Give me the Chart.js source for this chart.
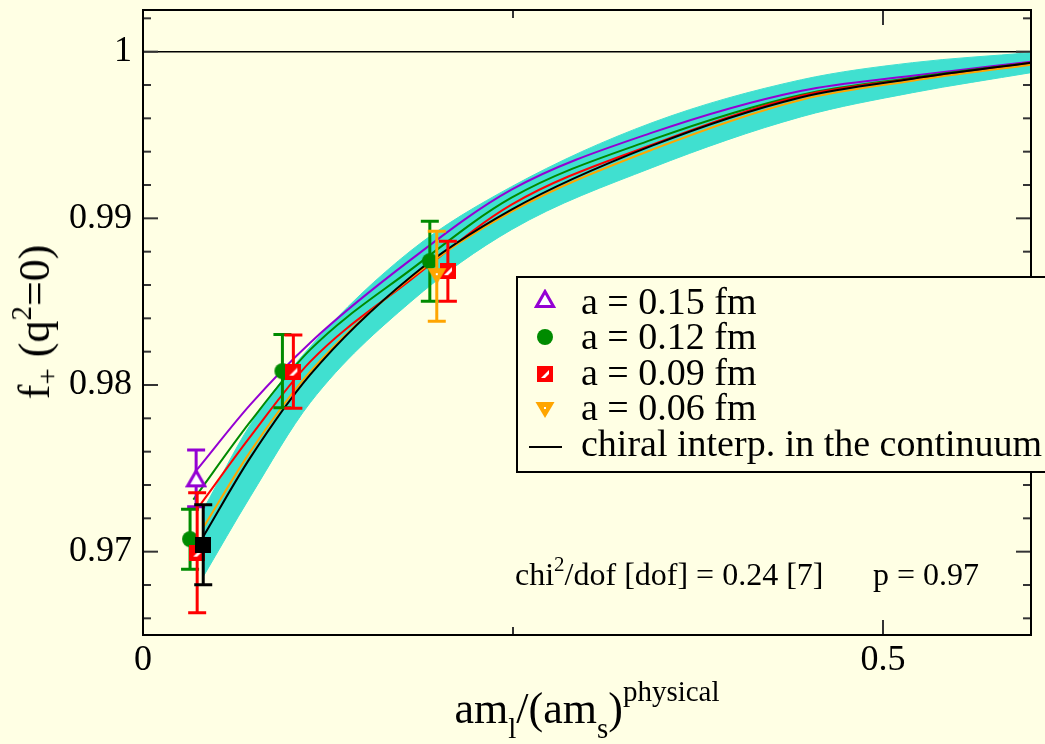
<!DOCTYPE html>
<html>
<head>
<meta charset="utf-8">
<script src="https://cdn.jsdelivr.net/npm/chart.js@4.4.0/dist/chart.umd.min.js"></script>
<style>
  html, body { margin: 0; padding: 0; background: #ffffe4; }
  #wrap { position: relative; width: 1045px; height: 744px; overflow: hidden;
          font-family: "Liberation Serif", "Times New Roman", serif; color: #000; }
  #chart { position: absolute; left: 0; top: 0; }
  .lbl { position: absolute; white-space: nowrap; line-height: 1; }
  .lbl sub, .lbl sup { line-height: 0; }
  #xTitle { left: 587px; top: 687px; font-size: 44px; transform: translateX(-50%); }
  #xTitle sub { font-size: 29px; vertical-align: -15px; }
  #xTitle sup { font-size: 29px; vertical-align: 22px; }
  #yTitle { left: 35px; top: 322px; font-size: 44px; transform: translate(-50%, -50%) rotate(-90deg); }
  #yTitle sub { font-size: 29px; vertical-align: -8px; }
  #yTitle sup { font-size: 29px; vertical-align: 18px; }
  .fit { top: 558px; font-size: 32px; }
  .fit sup { font-size: 21px; vertical-align: 14px; }
</style>
</head>
<body>
<div id="wrap">
  <canvas id="chart" width="1045" height="744"></canvas>
  <div class="lbl" id="xTitle">am<sub>l</sub>/(am<sub>s</sub>)<sup>physical</sup></div>
  <div class="lbl" id="yTitle">f<sub>+</sub> (q<sup>2</sup>=0)</div>
  <div class="lbl fit" style="left:515px">chi<sup>2</sup>/dof [dof] = 0.24 [7]</div>
  <div class="lbl fit" style="left:873px">p = 0.97</div>
</div>
<script>
// ! Data
const xMin = 0, xMax = 0.6;
const yMin = 0.965, yMax = 1.0025;
const xTickValues = [0, 0.5];
const xTickLabels = ["0", "0.5"];
const xMinorTicks = [0.25];
const yTickValues = [0.97, 0.98, 0.99, 1];
const yTickLabels = ["0.97", "0.98", "0.99", "1"];
const yMinorTicks = [0.966, 0.968, 0.972, 0.974, 0.976, 0.978, 0.982, 0.984, 0.986, 0.988, 0.992, 0.994, 0.996, 0.998, 1.002];

// lattice points
const a15X = [0.0359], a15Y = [0.9744], a15Err = [0.0017];
const a12X = [0.0318, 0.0942, 0.1938], a12Y = [0.97075, 0.98083, 0.98743], a12Err = [0.0018, 0.0022, 0.0024];
const a09X = [0.0366, 0.1016, 0.206], a09Y = [0.96994, 0.9808, 0.98683], a09Err = [0.0036, 0.0022, 0.0018];
const a06X = [0.1985], a06Y = [0.98653], a06Err = [0.0027];
const physX = [0.0407], physY = [0.97042], physErr = [0.0024];

// fit curves
const xGrid = [0.0725, 0.113, 0.181, 0.249, 0.344, 0.445, 0.52, 0.6];
const fit15X = [0.0365, ...xGrid];
const fit15Y = [0.97492, 0.97882, 0.98254, 0.98752, 0.99172, 0.99514, 0.99766, 0.99856, 0.9994];
const fit12X = [0.034, ...xGrid];
const fit12Y = [0.97312, 0.9778, 0.98212, 0.98692, 0.99124, 0.99472, 0.99742, 0.99844, 0.99934];
const fit09X = [0.0372, ...xGrid];
const fit09Y = [0.97264, 0.9769, 0.9814, 0.98632, 0.99082, 0.99442, 0.99736, 0.99838, 0.99934];
const fit06X = [0.0407, ...xGrid];
const fit06Y = [0.97144, 0.976, 0.9808, 0.98644, 0.9904, 0.99412, 0.99712, 0.99826, 0.99922];
const contX = [0.0407, ...xGrid];
const contY = [0.9709, 0.97564, 0.98062, 0.9865, 0.99052, 0.99436, 0.99727, 0.99838, 0.99934];
const bandUpper = [0.97252, 0.97762, 0.9823, 0.98806, 0.9919, 0.99574, 0.99832, 0.99934, 0.99994];
const bandLower = [0.9685, 0.9733, 0.97894, 0.985, 0.98932, 0.99304, 0.9961, 0.99754, 0.99874];
const refX = [0, 0.6], refY = [1, 1];

const legendLabels = ["a = 0.15 fm", "a = 0.12 fm", "a = 0.09 fm", "a = 0.06 fm", "chiral interp. in the continuum"];

const BG = "#ffffe4";
const VIOLET = "#9400d3", GREEN = "#008b00", RED = "#ff0000", ORANGE = "#ffa500", TURQ = "#40e0d0";
const FONT = '"Liberation Serif", "Times New Roman", serif';

const pts = (xs, ys) => xs.map((x, i) => ({ x: x, y: ys[i] }));

// ! Marker sprites
function sprite(w, h, draw) {
  const c = document.createElement("canvas");
  c.width = w;
  c.height = h;
  draw(c.getContext("2d"));
  return c;
}
const triUp = sprite(22, 20, (g) => {
  g.beginPath();
  g.moveTo(11, 2.5); g.lineTo(19.5, 17.5); g.lineTo(2.5, 17.5); g.closePath();
  g.fillStyle = "#fff"; g.fill();
  g.lineWidth = 3; g.strokeStyle = VIOLET; g.stroke();
});
const circ = sprite(18, 18, (g) => {
  g.beginPath(); g.arc(9, 9, 8, 0, Math.PI * 2);
  g.fillStyle = GREEN; g.fill();
});
const halfSq = sprite(16, 16, (g) => {
  g.fillStyle = RED; g.fillRect(0, 0, 16, 16);
  g.fillStyle = "#fff";
  g.beginPath();
  g.moveTo(4, 12); g.lineTo(12, 4); g.lineTo(12, 8); g.lineTo(8, 12); g.closePath();
  g.fill();
});
const triDown = sprite(22, 20, (g) => {
  g.beginPath();
  g.moveTo(1.5, 2); g.lineTo(20.5, 2); g.lineTo(11, 18); g.closePath();
  g.fillStyle = ORANGE; g.fill();
  g.fillStyle = "#fff"; g.fillRect(10, 7, 2, 2);
});
const blackSq = sprite(16, 16, (g) => {
  g.fillStyle = "#000"; g.fillRect(0, 0, 16, 16);
});

// ! Plugins
const errorBars = {
  id: "errorBars",
  beforeDatasetDraw(chart, args) {
    const ds = chart.data.datasets[args.index];
    if (!ds.errors) return;
    const { ctx, scales: { x, y } } = chart;
    ctx.save();
    ctx.strokeStyle = ds.barColor;
    ctx.lineWidth = 3;
    ds.data.forEach((p, i) => {
      const px = x.getPixelForValue(p.x);
      const top = y.getPixelForValue(p.y + ds.errors[i]);
      const bot = y.getPixelForValue(p.y - ds.errors[i]);
      ctx.beginPath();
      ctx.moveTo(px, top); ctx.lineTo(px, bot);
      ctx.moveTo(px - 9, top); ctx.lineTo(px + 9, top);
      ctx.moveTo(px - 9, bot); ctx.lineTo(px + 9, bot);
      ctx.stroke();
    });
    ctx.restore();
  },
};

const frameAndLegend = {
  id: "frameAndLegend",
  afterDraw(chart) {
    const { ctx, chartArea: a, scales: { x, y } } = chart;
    ctx.save();
    const seg = (x1, y1, x2, y2) => {
      ctx.beginPath(); ctx.moveTo(x1, y1); ctx.lineTo(x2, y2); ctx.stroke();
    };
    ctx.strokeStyle = "#333";
    ctx.lineWidth = 2;
    yTickValues.forEach((v) => {
      const p = y.getPixelForValue(v);
      seg(a.left, p, a.left + 15, p); seg(a.right, p, a.right - 15, p);
    });
    yMinorTicks.forEach((v) => {
      const p = y.getPixelForValue(v);
      seg(a.left, p, a.left + 8, p); seg(a.right, p, a.right - 8, p);
    });
    xTickValues.forEach((v) => {
      const p = x.getPixelForValue(v);
      seg(p, a.bottom, p, a.bottom - 15); seg(p, a.top, p, a.top + 15);
    });
    xMinorTicks.forEach((v) => {
      const p = x.getPixelForValue(v);
      seg(p, a.bottom, p, a.bottom - 8); seg(p, a.top, p, a.top + 8);
    });
    ctx.strokeStyle = "#000";
    ctx.strokeRect(a.left, a.top, a.right - a.left, a.bottom - a.top);

    // legend box
    const lx = 517, ly = 277, lh = 195;
    ctx.fillStyle = BG;
    ctx.fillRect(lx, ly, 600, lh);
    ctx.strokeRect(lx, ly, 600, lh);
    const marks = [triUp, circ, halfSq, triDown];
    const markY = [299, 337, 374, 410];
    const baseY = [314, 349, 385, 420, 456];
    marks.forEach((m, i) => ctx.drawImage(m, 545 - m.width / 2, markY[i] - m.height / 2));
    ctx.lineWidth = 2;
    seg(529, 447, 562, 447);
    ctx.fillStyle = "#000";
    ctx.font = "38px " + FONT;
    ctx.textBaseline = "alphabetic";
    legendLabels.forEach((t, i) => ctx.fillText(t, 581, baseY[i]));
    ctx.restore();
  },
};

// ! Chart
const curve = (xs, ys, color, width) => ({
  data: pts(xs, ys),
  showLine: true,
  borderColor: color,
  borderWidth: width,
  pointRadius: 0,
  cubicInterpolationMode: "monotone",
  fill: false,
});
const points = (xs, ys, errs, sprt, color) => ({
  data: pts(xs, ys),
  errors: errs,
  barColor: color,
  showLine: false,
  pointStyle: sprt,
  pointRadius: 9,
});

// first dataset is drawn on top
const datasets = [
  points(physX, physY, physErr, blackSq, "#000"),
  points(a06X, a06Y, a06Err, triDown, ORANGE),
  points(a09X, a09Y, a09Err, halfSq, RED),
  points(a12X, a12Y, a12Err, circ, GREEN),
  points(a15X, a15Y, a15Err, triUp, VIOLET),
  curve(contX, contY, "#000", 2),
  curve(fit06X, fit06Y, ORANGE, 2),
  curve(fit09X, fit09Y, RED, 2),
  curve(fit12X, fit12Y, GREEN, 2),
  curve(fit15X, fit15Y, VIOLET, 2),
  Object.assign(curve(contX, bandUpper, TURQ, 1), { fill: "+1", backgroundColor: TURQ }),
  curve(contX, bandLower, TURQ, 1),
  curve(refX, refY, "#000", 1.5),
];

Chart.defaults.font.family = FONT;

new Chart(document.getElementById("chart"), {
  type: "scatter",
  data: { datasets: datasets },
  options: {
    responsive: false,
    animation: false,
    layout: { padding: { top: 10, right: 14, left: 0, bottom: 0 } },
    plugins: { legend: { display: false }, tooltip: { enabled: false } },
    scales: {
      x: {
        type: "linear",
        min: xMin,
        max: xMax,
        afterBuildTicks: (s) => { s.ticks = xTickValues.map((v) => ({ value: v })); },
        afterFit: (s) => { s.height = 109; s.paddingLeft = 0; s.paddingRight = 0; },
        ticks: {
          callback: (v, i) => xTickLabels[i],
          font: { size: 36 },
          color: "#000",
          padding: 4,
          maxRotation: 0,
          autoSkip: false,
        },
        grid: { display: false, drawTicks: false },
        border: { display: false },
      },
      y: {
        type: "linear",
        min: yMin,
        max: yMax,
        afterBuildTicks: (s) => { s.ticks = yTickValues.map((v) => ({ value: v })); },
        afterFit: (s) => { s.width = 143; s.paddingTop = 0; s.paddingBottom = 0; },
        ticks: {
          callback: (v, i) => yTickLabels[i],
          font: { size: 36 },
          color: "#000",
          padding: 11,
          autoSkip: false,
        },
        grid: { display: false, drawTicks: false },
        border: { display: false },
      },
    },
  },
  plugins: [errorBars, frameAndLegend],
});
</script>
</body>
</html>
